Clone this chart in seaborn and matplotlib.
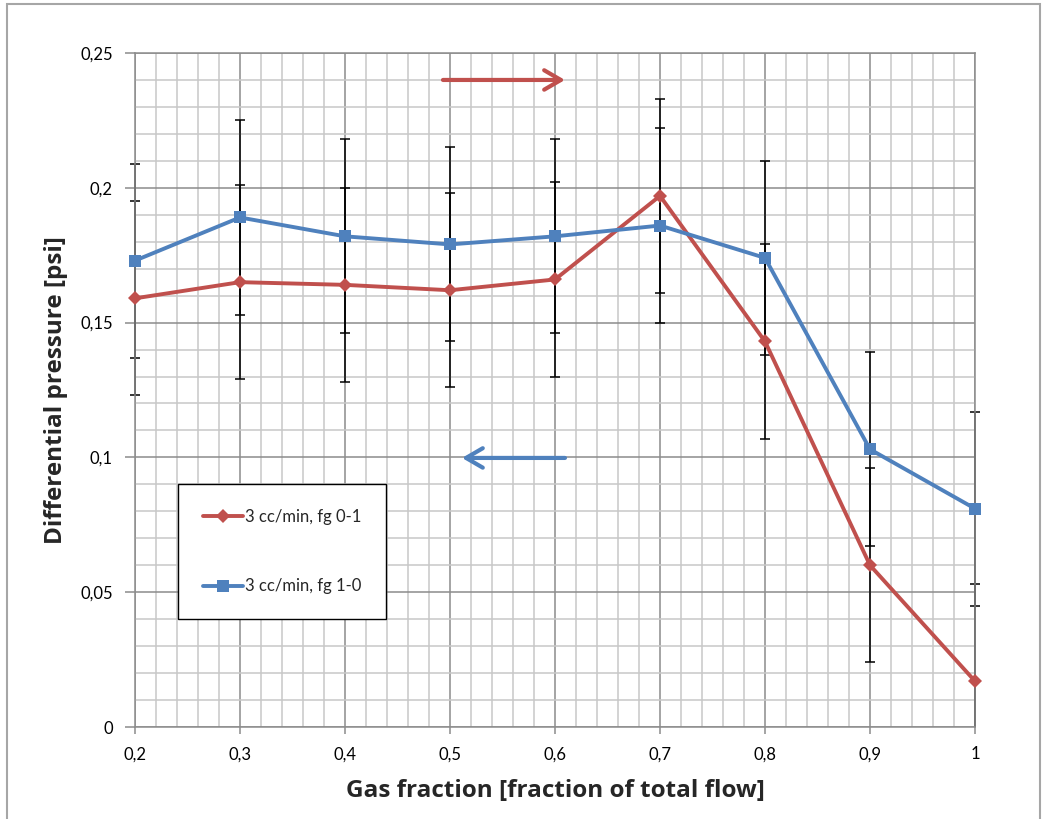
import matplotlib
matplotlib.use("Agg")
import matplotlib.pyplot as plt
import matplotlib.patches as mpatches
from matplotlib.ticker import MultipleLocator, FixedLocator, FixedFormatter
import seaborn as sns
import numpy as np

# ---- data ----
gas_fraction = [0.2, 0.3, 0.4, 0.5, 0.6, 0.7, 0.8, 0.9, 1.0]
dp_fg01 = [0.159, 0.165, 0.164, 0.162, 0.166, 0.197, 0.143, 0.060, 0.017]
dp_fg10 = [0.173, 0.189, 0.182, 0.179, 0.182, 0.186, 0.174, 0.103, 0.081]
err_fg01 = [0.036, 0.036, 0.036, 0.036, 0.036, 0.036, 0.036, 0.036, 0.036]
err_fg10 = [0.036, 0.036, 0.036, 0.036, 0.036, 0.036, 0.036, 0.036, 0.036]
label_fg01 = "3 cc/min, fg 0-1"
label_fg10 = "3 cc/min, fg 1-0"
x_ticks = [0.2, 0.3, 0.4, 0.5, 0.6, 0.7, 0.8, 0.9, 1.0]
x_tick_labels = ["0,2", "0,3", "0,4", "0,5", "0,6", "0,7", "0,8", "0,9", "1"]
y_ticks = [0, 0.05, 0.1, 0.15, 0.2, 0.25]
y_tick_labels = ["0", "0,05", "0,1", "0,15", "0,2", "0,25"]
x_title = "Gas fraction [fraction of total flow]"
y_title = "Differential pressure [psi]"

RED = "#C0504D"
BLUE = "#4F81BD"

sns.set_theme(style="white")
plt.rcParams["font.family"] = ["Lato", "DejaVu Sans"]

fig = plt.figure(figsize=(10.43, 8.19), dpi=100)
ax = fig.add_axes([135 / 1043, 1 - 727 / 819, 840 / 1043, 674 / 819])

# grid
ax.set_xlim(0.2, 1.0)
ax.set_ylim(0, 0.25)
ax.xaxis.set_minor_locator(MultipleLocator(0.02))
ax.yaxis.set_minor_locator(MultipleLocator(0.01))
ax.xaxis.set_major_locator(FixedLocator(x_ticks))
ax.yaxis.set_major_locator(FixedLocator(y_ticks))
ax.xaxis.set_major_formatter(FixedFormatter(x_tick_labels))
ax.yaxis.set_major_formatter(FixedFormatter(y_tick_labels))
ax.grid(which="minor", color="#c8c8c8", lw=1.1, zorder=0)
ax.grid(which="major", color="#8c8c8c", lw=1.1, zorder=0)
ax.set_axisbelow(True)

# clip region: full plot height, a bit wider than the axes so end points show
clip_rect = mpatches.Rectangle((-0.03, 0.0), 1.06, 1.0, transform=ax.transAxes,
                               fill=False, visible=False)
ax.add_patch(clip_rect)

# error bars
for yv, ev in ((dp_fg01, err_fg01), (dp_fg10, err_fg10)):
    cont = ax.errorbar(gas_fraction, yv, yerr=ev, fmt="none", ecolor="black",
                       elinewidth=1.1, capsize=3.6, capthick=1.1, zorder=2)
    for art in list(cont.lines[1]) + list(cont.lines[2]):
        art.set_clip_path(clip_rect)

# lines
sns.lineplot(x=gas_fraction, y=dp_fg01, ax=ax, color=RED, lw=2.8, marker="D",
             markersize=7.5, markeredgewidth=0, label=label_fg01, zorder=3,
             clip_on=False)
sns.lineplot(x=gas_fraction, y=dp_fg10, ax=ax, color=BLUE, lw=2.8, marker="s",
             markersize=8.5, markeredgewidth=0, label=label_fg10, zorder=3,
             clip_on=False)

# arrows
ax.annotate("", xy=(0.6095, 0.240), xytext=(0.4933, 0.240),
            arrowprops=dict(arrowstyle="->,head_length=0.6,head_width=0.35",
                            color=RED, lw=3, mutation_scale=20,
                            shrinkA=0, shrinkB=0), zorder=4)
ax.annotate("", xy=(0.5114, 0.0998), xytext=(0.6095, 0.0998),
            arrowprops=dict(arrowstyle="->,head_length=0.6,head_width=0.35",
                            color=BLUE, lw=3, mutation_scale=20,
                            shrinkA=0, shrinkB=0), zorder=4)

# axes styling
for s in ax.spines.values():
    s.set_color("#8c8c8c")
    s.set_linewidth(1.1)
ax.tick_params(axis="x", which="major", direction="out", length=5, width=1.1,
               color="#8c8c8c", labelsize=12, pad=9, labelcolor="black",
               bottom=True)
ax.tick_params(axis="y", which="major", direction="out", length=7, width=1.1,
               color="#8c8c8c", labelsize=12, pad=9, labelcolor="black",
               left=True)
ax.tick_params(which="minor", length=0)

ax.set_xlabel(x_title, fontsize=17.5, fontweight="bold", labelpad=12,
              family=["Open Sans", "DejaVu Sans"])
ax.set_ylabel(y_title, fontsize=17.5, fontweight="bold", labelpad=9,
              family=["Open Sans", "DejaVu Sans"])

leg = ax.legend(loc="upper left", bbox_to_anchor=(0.0512, 0.3605),
                borderaxespad=0, fontsize=12, frameon=True, fancybox=False,
                edgecolor="black", framealpha=1, borderpad=1.5,
                labelspacing=3.2, handlelength=2.4, handletextpad=0.1,
                numpoints=1)
leg.get_frame().set_linewidth(1.0)

# figure border
fig.patches.append(mpatches.Rectangle((7 / 1043, -0.01), 1033 / 1043, 1.01 - 4 / 819,
                                      transform=fig.transFigure, fill=False,
                                      edgecolor="#a6a6a6", lw=1.5))

fig.savefig("out.png", dpi=100)
